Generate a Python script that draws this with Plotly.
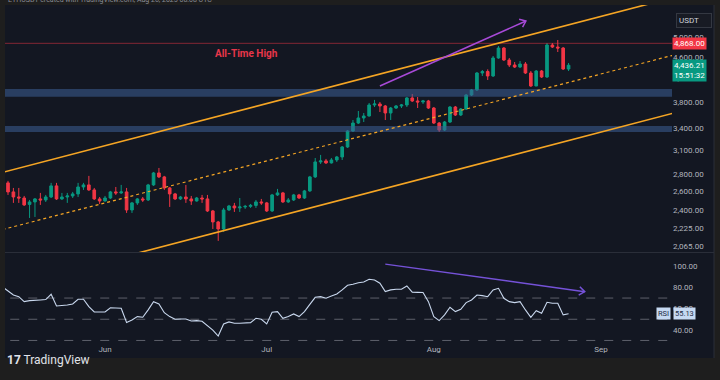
import math
import pandas as pd
import plotly.graph_objects as go

# ---------------- data ----------------
dates = pd.date_range("2025-05-14", periods=105, freq="D")
open_ = [2695, 2594, 2539, 2528, 2460, 2486, 2518, 2507, 2539, 2661,
         2518, 2539, 2550, 2572, 2649, 2672, 2616, 2518, 2496, 2528,
         2594, 2583, 2594, 2403, 2476, 2518, 2507, 2672, 2811, 2764,
         2638, 2572, 2518, 2539, 2518, 2496, 2528, 2518, 2393, 2284,
         2217, 2403, 2444, 2424, 2434, 2440, 2450, 2486, 2476, 2393,
         2561, 2583, 2486, 2507, 2561, 2528, 2605, 2764, 2945, 2958,
         2933, 2970, 3008, 3138, 3358, 3473, 3548, 3578, 3749, 3765,
         3733, 3624, 3701, 3733, 3749, 3862, 3813, 3797, 3813, 3701,
         3473, 3372, 3488, 3717, 3593, 3686, 3911, 3995, 4293, 4320,
         4239, 4575, 4772, 4536, 4441, 4403, 4459, 4293, 4063, 4329,
         4221, 4833, 4792, 4772, 4366]
high = [2718, 2638, 2638, 2550, 2507, 2528, 2583, 2561, 2695, 2695,
        2583, 2583, 2594, 2695, 2695, 2776, 2638, 2539, 2550, 2605,
        2649, 2672, 2638, 2486, 2528, 2539, 2684, 2823, 2871, 2776,
        2649, 2583, 2550, 2672, 2550, 2539, 2561, 2561, 2403, 2294,
        2424, 2455, 2476, 2528, 2455, 2465, 2507, 2518, 2486, 2572,
        2627, 2594, 2528, 2572, 2572, 2616, 2776, 2995, 3034, 2983,
        2995, 3021, 3151, 3372, 3518, 3655, 3624, 3781, 3830, 3797,
        3749, 3717, 3749, 3765, 3878, 3928, 3878, 3830, 3830, 3717,
        3488, 3503, 3733, 3733, 3701, 3928, 4012, 4311, 4348, 4360,
        4614, 4813, 4792, 4575, 4497, 4517, 4497, 4329, 4348, 4348,
        4874, 4874, 4937, 4792, 4478]
low = [2561, 2476, 2476, 2444, 2323, 2333, 2455, 2486, 2528, 2507,
       2507, 2476, 2528, 2539, 2616, 2605, 2507, 2465, 2490, 2518,
       2561, 2572, 2373, 2373, 2455, 2486, 2496, 2661, 2752, 2616,
       2434, 2507, 2507, 2476, 2455, 2490, 2476, 2383, 2217, 2108,
       2190, 2393, 2383, 2383, 2414, 2424, 2424, 2455, 2383, 2383,
       2550, 2476, 2476, 2496, 2518, 2518, 2594, 2752, 2920, 2920,
       2925, 2945, 2970, 3125, 3344, 3459, 3488, 3570, 3717, 3639,
       3518, 3518, 3686, 3701, 3717, 3797, 3701, 3765, 3686, 3459,
       3344, 3358, 3473, 3578, 3578, 3670, 3895, 3978, 4239, 4168,
       4221, 4560, 4517, 4403, 4385, 4385, 4275, 4046, 4060, 4203,
       4203, 4772, 4692, 4348, 4329]
close = [2594, 2539, 2528, 2455, 2486, 2518, 2507, 2539, 2661, 2518,
         2539, 2550, 2572, 2649, 2672, 2616, 2518, 2496, 2528, 2594,
         2583, 2594, 2403, 2476, 2518, 2507, 2672, 2811, 2764, 2638,
         2572, 2518, 2539, 2518, 2496, 2528, 2518, 2393, 2284, 2217,
         2403, 2444, 2424, 2434, 2440, 2450, 2486, 2476, 2393, 2561,
         2583, 2486, 2507, 2561, 2528, 2605, 2764, 2945, 2958, 2933,
         2970, 3008, 3138, 3358, 3473, 3548, 3578, 3749, 3765, 3733,
         3624, 3701, 3733, 3749, 3862, 3813, 3797, 3813, 3701, 3473,
         3372, 3488, 3717, 3593, 3686, 3911, 3995, 4293, 4320, 4239,
         4575, 4772, 4536, 4441, 4403, 4459, 4293, 4063, 4329, 4221,
         4833, 4792, 4772, 4366, 4436.21]

rsi_dates = pd.date_range("2025-05-13", periods=106, freq="D")
rsi = [80.5, 77.0, 72.9, 71.3, 66.6, 67.6, 68.2, 68.2, 68.6, 73.6,
       62.5, 62.8, 63.5, 64.4, 68.9, 68.9, 62.0, 56.9, 56.9, 56.9,
       60.9, 60.6, 60.4, 47.0, 49.3, 52.5, 51.9, 58.9, 66.6, 64.4,
       56.2, 52.5, 50.0, 50.3, 50.3, 48.4, 48.7, 48.1, 44.0, 39.8,
       34.2, 45.6, 47.5, 46.2, 46.2, 46.5, 46.8, 50.9, 50.0, 45.6,
       56.6, 57.2, 50.9, 52.5, 55.0, 52.5, 57.2, 64.0, 70.7, 71.3,
       69.8, 72.0, 73.9, 77.7, 82.1, 83.0, 84.5, 85.2, 87.7, 87.1,
       84.0, 76.1, 77.7, 78.3, 78.3, 81.4, 75.5, 75.4, 75.2, 66.6,
       52.5, 48.7, 54.1, 61.3, 57.2, 59.4, 65.7, 68.2, 72.9, 72.3,
       71.3, 77.7, 79.2, 69.8, 66.6, 65.7, 66.6, 58.8, 51.9, 58.1,
       55.6, 66.0, 65.1, 65.1, 54.1, 55.13]

ath_price = 4868.0
last_price = 4436.21
last_rsi = 55.13
zone_lo = [3880, 3345]
zone_hi = [4010, 3430]

channel_dates = ["2025-05-13", "2025-09-15"]
channel_upper = [2818, 5929]
channel_mid = [2212, 4645]
channel_lower = [1724, 3633]

price_arrow_dates = ["2025-07-22", "2025-08-18 02:00"]
price_arrow_vals = [4063, 5351]
rsi_arrow_dates = ["2025-07-23", "2025-08-29"]
rsi_arrow_vals = [102, 76]

price_ticks = [2065, 2225, 2400, 2600, 2800, 3100, 3400, 3800, 4200, 4600, 5000]
rsi_ticks = [40, 60, 80, 100]
rsi_levels = [70, 50, 30]
month_ticks = ["2025-06-01", "2025-07-01", "2025-08-01", "2025-09-01"]
month_labels = ["Jun", "Jul", "Aug", "Sep"]

# ---------------- layout geometry ----------------
W, H = 720, 380
PL, PR = 5, 672
MAIN_T, MAIN_B = 5, 252
RSI_T, RSI_B = 253, 343
x_range = ["2025-05-13 10:36", "2025-09-14 04:36"]
y_log_range = [math.log10(2011), math.log10(5726)]
rsi_range = [27.6, 112.5]

BG = "#131722"
OUTER = "#1e1e1e"
GREEN = "#089981"
RED = "#f23645"
AX_TXT = "#b2b5be"
FONT = "Roboto"


def fx(px):
    return px / W


def fy(py):
    return 1 - py / H


x0_ts = pd.Timestamp(x_range[0])
span_days = (pd.Timestamp(x_range[1]) - x0_ts) / pd.Timedelta(days=1)
ppd = (PR - PL) / span_days
ppl = (MAIN_B - MAIN_T) / (y_log_range[1] - y_log_range[0])
ppu = (RSI_B - RSI_T) / (rsi_range[1] - rsi_range[0])


def chevron(d0, v0, d1, v1, to_y, from_y, L=7.0, ang=38):
    X0 = (pd.Timestamp(d0) - x0_ts) / pd.Timedelta(days=1) * ppd
    X1 = (pd.Timestamp(d1) - x0_ts) / pd.Timedelta(days=1) * ppd
    Y0, Y1 = to_y(v0), to_y(v1)
    dx, dy = X1 - X0, Y1 - Y0
    n = math.hypot(dx, dy)
    bx, by = -dx / n, -dy / n
    xs, ys = [], []
    for a in (ang, None, -ang):
        if a is None:
            px, py = X1, Y1
        else:
            r = math.radians(a)
            rx = bx * math.cos(r) - by * math.sin(r)
            ry = bx * math.sin(r) + by * math.cos(r)
            px, py = X1 + L * rx, Y1 + L * ry
        xs.append(x0_ts + pd.Timedelta(days=px / ppd))
        ys.append(from_y(py))
    return xs, ys


main_to = lambda v: -math.log10(v) * ppl
main_from = lambda p: 10 ** (-p / ppl)
rsi_to = lambda v: -v * ppu
rsi_from = lambda p: -p / ppu

fig = go.Figure()

far = ["2025-04-01", "2025-10-31"]
# support / resistance zones
for lo, hi in zip(zone_lo, zone_hi):
    fig.add_trace(go.Scatter(x=[far[0], far[1], far[1], far[0], far[0]],
                             y=[lo, lo, hi, hi, lo], fill="toself",
                             fillcolor="rgba(60,95,150,0.55)", mode="lines",
                             line=dict(width=0), hoverinfo="skip",
                             xaxis="x", yaxis="y"))
# ATH line
fig.add_trace(go.Scatter(x=far, y=[ath_price, ath_price], mode="lines",
                         line=dict(color="rgba(242,54,69,0.5)", width=1),
                         xaxis="x", yaxis="y"))
# channel
for vals, dash, wdt in [(channel_upper, "solid", 1.6), (channel_lower, "solid", 1.6),
                        (channel_mid, "dot", 1.2)]:
    fig.add_trace(go.Scatter(x=channel_dates, y=vals, mode="lines",
                             line=dict(color="#f5a524", width=wdt, dash=dash),
                             xaxis="x", yaxis="y"))
# candles
fig.add_trace(go.Candlestick(x=dates, open=open_, high=high, low=low, close=close,
                             increasing=dict(line=dict(color=GREEN, width=1), fillcolor=GREEN),
                             decreasing=dict(line=dict(color=RED, width=1), fillcolor=RED),
                             whiskerwidth=0, xaxis="x", yaxis="y"))
# price divergence arrow
fig.add_trace(go.Scatter(x=price_arrow_dates, y=price_arrow_vals, mode="lines",
                         line=dict(color="#a84ad8", width=1.5), xaxis="x", yaxis="y"))
cx, cy = chevron(price_arrow_dates[0], price_arrow_vals[0], price_arrow_dates[1],
                 price_arrow_vals[1], main_to, main_from)
fig.add_trace(go.Scatter(x=cx, y=cy, mode="lines",
                         line=dict(color="#a84ad8", width=1.5), xaxis="x", yaxis="y"))

# RSI levels
for lv in rsi_levels:
    fig.add_trace(go.Scatter(x=far, y=[lv, lv], mode="lines",
                             line=dict(color="#5d606b", width=1, dash="dash"),
                             xaxis="x2", yaxis="y2"))
fig.add_trace(go.Scatter(x=rsi_dates, y=rsi, mode="lines",
                         line=dict(color="#c9d8ee", width=1.1), xaxis="x2", yaxis="y2"))
fig.add_trace(go.Scatter(x=rsi_arrow_dates, y=rsi_arrow_vals, mode="lines",
                         line=dict(color="#7552d8", width=1.5), xaxis="x2", yaxis="y2"))
cx, cy = chevron(rsi_arrow_dates[0], rsi_arrow_vals[0], rsi_arrow_dates[1],
                 rsi_arrow_vals[1], rsi_to, rsi_from)
fig.add_trace(go.Scatter(x=cx, y=cy, mode="lines",
                         line=dict(color="#7552d8", width=1.5), xaxis="x2", yaxis="y2"))

annotations = [
    dict(text="<b>All-Time High</b>", x="2025-06-27 05:00", y=math.log10(4672),
         xref="x", yref="y", showarrow=False, font=dict(color="#e8364a", size=10, family=FONT)),
    dict(text="4,868.00", x=fx(PR), xanchor="left", xref="paper", y=math.log10(ath_price),
         yref="y", showarrow=False, bgcolor=RED, borderpad=1,
         font=dict(color="white", size=8, family=FONT)),
    dict(text="4,436.21<br>15:51:32", x=fx(PR), xanchor="left", xref="paper",
         y=math.log10(last_price) + 6 / ppl, yanchor="top", yref="y", showarrow=False,
         bgcolor=GREEN, borderpad=1, align="left",
         font=dict(color="white", size=8, family=FONT)),
    dict(text="RSI", x=fx(PR - 1), xanchor="right", xref="paper", y=last_rsi, yref="y2",
         showarrow=False, bgcolor="#c6d9f2", borderpad=1,
         font=dict(color="#1d2b45", size=7.5, family=FONT)),
    dict(text="55.13", x=fx(PR + 1), xanchor="left", xref="paper", y=last_rsi, yref="y2",
         showarrow=False, bgcolor="#c6d9f2", borderpad=1,
         font=dict(color="#1d2b45", size=7.5, family=FONT)),
    dict(text="USDT", x=fx(676), xanchor="left", xref="paper", y=fy(13.5), yref="paper",
         showarrow=False, bgcolor="#181b24", bordercolor="#343842", borderwidth=1,
         borderpad=2, width=30, align="left",
         font=dict(color="#d1d4dc", size=8, family=FONT)),
    dict(text="ETHUSDT created with TradingView.com, Aug 26, 2025 08:08 UTC",
         x=fx(6), xanchor="left", xref="paper", y=1.0, yanchor="middle", yref="paper",
         showarrow=False, font=dict(color="#8a8d96", size=7, family=FONT)),
    dict(text="<b>17</b> TradingView", x=fx(5), xanchor="left", xref="paper",
         y=fy(369), yref="paper", showarrow=False,
         font=dict(color="#e0e3eb", size=12, family=FONT)),
]

shapes = [
    dict(type="rect", xref="paper", yref="paper", x0=fx(PL), x1=fx(714),
         y0=fy(358), y1=fy(MAIN_T), fillcolor=BG, line=dict(width=0), layer="below"),
    dict(type="line", xref="paper", yref="paper", x0=fx(PL), x1=fx(714),
         y0=fy(252.5), y1=fy(252.5), line=dict(color="#2a2e39", width=1)),
    dict(type="line", xref="paper", yref="paper", x0=fx(714), x1=fx(714),
         y0=fy(358), y1=fy(MAIN_T), line=dict(color="#2a2e39", width=1)),
]

fig.update_layout(
    width=W, height=H, margin=dict(l=0, r=0, t=0, b=0),
    paper_bgcolor=OUTER, plot_bgcolor=BG, showlegend=False, hovermode=False,
    font=dict(family=FONT, color=AX_TXT, size=8),
    xaxis=dict(domain=[fx(PL), fx(PR)], range=x_range, anchor="y", showticklabels=False,
               showgrid=False, zeroline=False, rangeslider=dict(visible=False), ticks=""),
    yaxis=dict(domain=[fy(MAIN_B), fy(MAIN_T)], type="log", range=y_log_range, side="right",
               anchor="x", tickvals=price_ticks,
               ticktext=[f"{v:,.2f}" for v in price_ticks], showgrid=False, zeroline=False,
               ticks="", tickfont=dict(size=8, color=AX_TXT, family=FONT)),
    xaxis2=dict(domain=[fx(PL), fx(PR)], range=x_range, matches="x", anchor="y2",
                tickvals=month_ticks, ticktext=month_labels, showgrid=False,
                zeroline=False, ticks="", tickfont=dict(size=8, color=AX_TXT, family=FONT)),
    yaxis2=dict(domain=[fy(RSI_B), fy(RSI_T)], range=rsi_range, side="right", anchor="x2",
                tickvals=rsi_ticks, ticktext=[f"{v:.2f}" for v in rsi_ticks],
                showgrid=False, zeroline=False, ticks="",
                tickfont=dict(size=8, color=AX_TXT, family=FONT)),
    annotations=annotations, shapes=shapes,
)

fig.write_html("out.html", config={"displayModeBar": False},
               post_script="document.body.style.margin='0';document.body.style.background='#1e1e1e';")
